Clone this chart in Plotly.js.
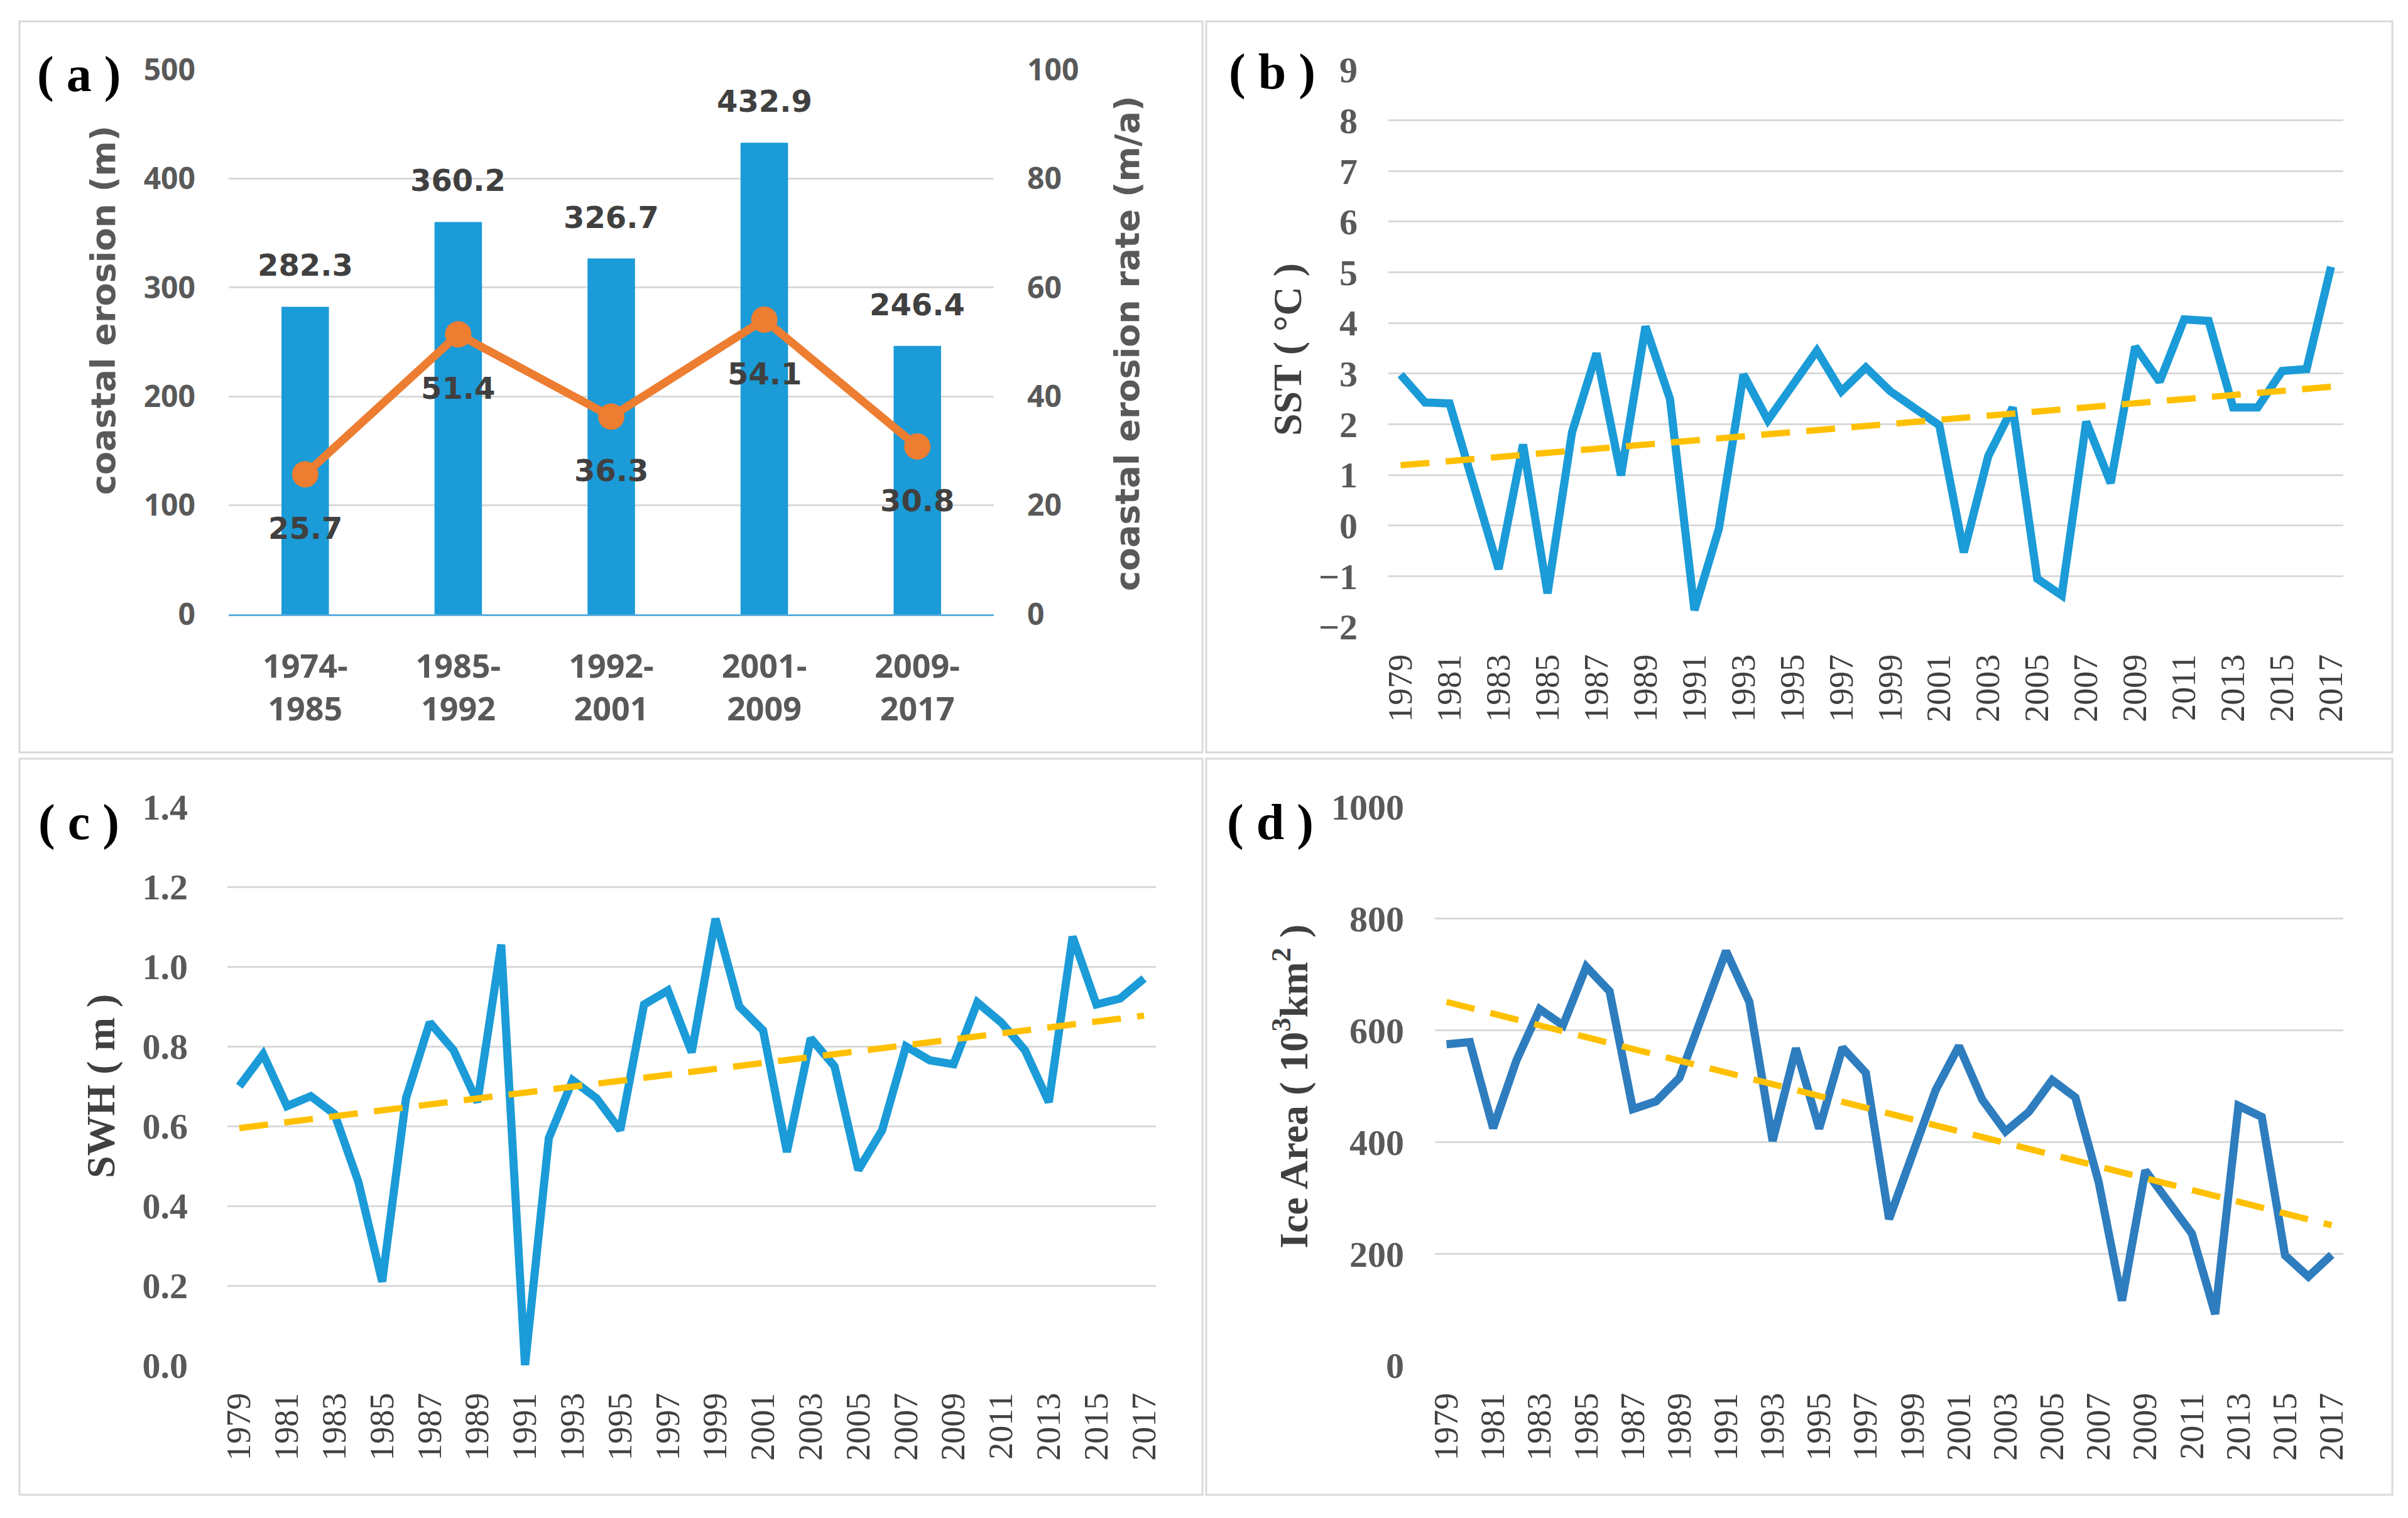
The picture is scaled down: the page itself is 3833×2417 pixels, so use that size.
<!DOCTYPE html>
<html>
<head>
<meta charset="utf-8">
<script src="https://cdn.plot.ly/plotly-3.0.1.min.js"></script>
<style>html,body{margin:0;padding:0;background:#fff;}#chart{width:3833px;height:2417px;}</style>
</head>
<body>
<div id="chart"></div>
<script>
// ---- data ----
const periods = ['1974-<br>1985', '1985-<br>1992', '1992-<br>2001', '2001-<br>2009', '2009-<br>2017'];
const erosion = [282.3, 360.2, 326.7, 432.9, 246.4];
const erosionRate = [25.7, 51.4, 36.3, 54.1, 30.8];

const years = [1979, 1980, 1981, 1982, 1983, 1984, 1985, 1986, 1987, 1988, 1989, 1990, 1991, 1992, 1993, 1994, 1995, 1996, 1997, 1998,
               1999, 2000, 2001, 2002, 2003, 2004, 2005, 2006, 2007, 2008, 2009, 2010, 2011, 2012, 2013, 2014, 2015, 2016, 2017];
const tickYears = [1979, 1981, 1983, 1985, 1987, 1989, 1991, 1993, 1995, 1997, 1999, 2001, 2003, 2005, 2007, 2009, 2011, 2013, 2015, 2017];
const tickYearLabels = ['1979', '1981', '1983', '1985', '1987', '1989', '1991', '1993', '1995', '1997', '1999', '2001', '2003', '2005', '2007', '2009', '2011', '2013', '2015', '2017'];

const sst = [2.98, 2.43, 2.41, 0.80, -0.86, 1.60, -1.34, 1.84, 3.40, 0.99, 3.93, 2.50, -1.67, -0.06, 2.98, 2.08, 2.77, 3.45, 2.65, 3.12,
             2.65, 2.33, 1.98, -0.53, 1.37, 2.33, -1.05, -1.38, 2.05, 0.84, 3.53, 2.84, 4.07, 4.04, 2.33, 2.33, 3.05, 3.09, 5.11];
const swh = [0.70, 0.78, 0.65, 0.675, 0.63, 0.46, 0.21, 0.67, 0.86, 0.79, 0.66, 1.055, 0.00, 0.57, 0.715, 0.67, 0.59, 0.905, 0.94, 0.785,
             1.12, 0.90, 0.84, 0.535, 0.82, 0.75, 0.49, 0.59, 0.80, 0.765, 0.755, 0.91, 0.86, 0.79, 0.66, 1.075, 0.905, 0.92, 0.97];
const iceArea = [575, 579, 425, 546, 638, 609, 714, 670, 459, 473, 515, 633, 742, 651, 402, 568, 424, 569, 524, 262,
                 380, 493, 572, 476, 419, 454, 511, 480, 328, 116, 349, 293, 236, 92, 465, 445, 197, 159, 198];

const trendYears = [1979, 2017];
const sstTrend = [1.19, 2.74];
const swhTrend = [0.595, 0.877];
const iceTrend = [651, 251];

// ---- helpers for layout (pixel -> paper) ----
const W = 3833, H = 2417;
const px = p => p / W;
const py = p => 1 - p / H;

const BLUE = '#1B9BD7';
const BLUE_D = '#2E7DBE';
const ORANGE = '#ED7D31';
const GOLD = '#FFC000';
const GRID = '#D9D9D9';
const serif = 'Liberation Serif, Times New Roman, serif';
const sans = 'Open Sans, Liberation Sans, sans-serif';
const dv = 'DejaVu Sans, sans-serif';
const TREND_DASH = '46px,26px';

const traces = [
  {type: 'bar', x: periods, y: erosion, xaxis: 'x', yaxis: 'y', marker: {color: BLUE}, hoverinfo: 'none'},
  {type: 'scatter', mode: 'lines+markers', x: periods, y: erosionRate, xaxis: 'x', yaxis: 'y5',
   line: {color: ORANGE, width: 13}, marker: {color: ORANGE, size: 42}},

  {type: 'scatter', mode: 'lines', x: years, y: sst, xaxis: 'x2', yaxis: 'y2', line: {color: BLUE, width: 13}},
  {type: 'scatter', mode: 'lines', x: trendYears, y: sstTrend, xaxis: 'x2', yaxis: 'y2', line: {color: GOLD, width: 10, dash: TREND_DASH}},

  {type: 'scatter', mode: 'lines', x: years, y: swh, xaxis: 'x3', yaxis: 'y3', line: {color: BLUE, width: 13}},
  {type: 'scatter', mode: 'lines', x: trendYears, y: swhTrend, xaxis: 'x3', yaxis: 'y3', line: {color: GOLD, width: 10, dash: TREND_DASH}},

  {type: 'scatter', mode: 'lines', x: years, y: iceArea, xaxis: 'x4', yaxis: 'y4', line: {color: BLUE_D, width: 13}},
  {type: 'scatter', mode: 'lines', x: trendYears, y: iceTrend, xaxis: 'x4', yaxis: 'y4', line: {color: GOLD, width: 10, dash: TREND_DASH}}
];

const yTickFontSerif = {family: serif, size: 58, color: '#595959', weight: 'bold'};
const xTickFontSerif = {family: serif, size: 54, color: '#404040'};

function yearAxis(domain, anchor) {
  return {domain: domain, anchor: anchor, range: [1978.5, 2017.5], tickmode: 'array', tickvals: tickYears, ticktext: tickYearLabels,
          tickangle: -90, tickfont: xTickFontSerif, showgrid: false, zeroline: false, showline: false, ticks: '', ticklabelstandoff: 32};
}
function valAxis(domain, anchor, range, dtick, fmt, standoff) {
  return {domain: domain, anchor: anchor, range: range, dtick: dtick, tick0: range[0], tickformat: fmt, tickfont: yTickFontSerif,
          showgrid: true, gridcolor: GRID, gridwidth: 3, zeroline: false, showline: false, ticks: '', ticklabelstandoff: standoff};
}

const layout = {
  width: W, height: H, margin: {l: 0, r: 0, t: 0, b: 0, pad: 0},
  paper_bgcolor: '#ffffff', plot_bgcolor: '#ffffff', showlegend: false, bargap: 0.69,
  xaxis: {domain: [px(364), px(1582)], anchor: 'y', type: 'category', showgrid: false, zeroline: false,
          showline: true, linecolor: '#5AAEE0', linewidth: 3, ticks: '', ticklabelstandoff: 36,
          tickfont: {family: sans, size: 52, color: '#595959', weight: 'bold'}},
  yaxis: {domain: [py(978), py(111)], anchor: 'x', range: [0, 500], dtick: 100, showgrid: true, gridcolor: GRID, gridwidth: 3,
          zeroline: false, ticks: '', ticklabelstandoff: 52, tickfont: {family: sans, size: 48, color: '#595959', weight: 'bold'}},
  yaxis5: {overlaying: 'y', side: 'right', anchor: 'x', range: [0, 100], dtick: 20, showgrid: false, zeroline: false,
           ticks: '', ticklabelstandoff: 52, tickfont: {family: sans, size: 48, color: '#595959', weight: 'bold'}},

  xaxis2: yearAxis([px(2210), px(3730)], 'y2'),
  yaxis2: valAxis([py(998), py(111)], 'x2', [-2, 9], 1, 'd', 48),

  xaxis3: yearAxis([px(362), px(1840)], 'y3'),
  yaxis3: valAxis([py(2174), py(1285)], 'x3', [0, 1.4], 0.2, '.1f', 62),

  xaxis4: yearAxis([px(2284), px(3730)], 'y4'),
  yaxis4: valAxis([py(2174), py(1285)], 'x4', [0, 1000], 200, 'd', 48),

  shapes: [
    {type: 'rect', xref: 'paper', yref: 'paper', x0: px(31), x1: px(1914), y0: py(1198), y1: py(34), line: {color: GRID, width: 3}},
    {type: 'rect', xref: 'paper', yref: 'paper', x0: px(1920), x1: px(3808), y0: py(1198), y1: py(34), line: {color: GRID, width: 3}},
    {type: 'rect', xref: 'paper', yref: 'paper', x0: px(31), x1: px(1914), y0: py(2380), y1: py(1208), line: {color: GRID, width: 3}},
    {type: 'rect', xref: 'paper', yref: 'paper', x0: px(1920), x1: px(3808), y0: py(2380), y1: py(1208), line: {color: GRID, width: 3}}
  ],
  annotations: []
};

// data labels, panel (a)
erosion.forEach((v, i) => layout.annotations.push({
  xref: 'x', yref: 'y', x: periods[i], y: v, text: v.toFixed(1), showarrow: false, yanchor: 'bottom', yshift: 36,
  font: {family: dv, size: 48, color: '#404040', weight: 'bold'}
}));
erosionRate.forEach((v, i) => layout.annotations.push({
  xref: 'x', yref: 'y5', x: periods[i], y: v, text: v.toFixed(1), showarrow: false, yanchor: 'top', yshift: -56,
  font: {family: dv, size: 48, color: '#404040', weight: 'bold'}
}));

// axis titles
const titleSans = {family: dv, size: 54, color: '#595959', weight: 'bold'};
const titleSerif = {family: serif, size: 64, color: '#404040', weight: 'bold'};
[
  {x: 165, y: 494, text: 'coastal erosion (m)', font: titleSans},
  {x: 1794, y: 547, text: 'coastal erosion rate (m/a)', font: titleSans},
  {x: 2049, y: 557, text: 'SST ( °C )', font: titleSerif},
  {x: 160, y: 1730, text: 'SWH ( m )', font: titleSerif},
  {x: 2054, y: 1730, text: 'Ice Area ( 10<sup>3</sup>km<sup>2</sup> )', font: titleSerif}
].forEach(t => layout.annotations.push({
  xref: 'paper', yref: 'paper', x: px(t.x), y: py(t.y), text: t.text, textangle: -90, showarrow: false,
  xanchor: 'center', yanchor: 'middle', font: t.font
}));

// panel labels
[
  {x: 125, y: 118, text: '( a )'},
  {x: 2025, y: 115, text: '( b )'},
  {x: 125, y: 1309, text: '( c )'},
  {x: 2022, y: 1309, text: '( d )'}
].forEach(t => layout.annotations.push({
  xref: 'paper', yref: 'paper', x: px(t.x), y: py(t.y), text: t.text, showarrow: false,
  xanchor: 'center', yanchor: 'middle', font: {family: serif, size: 80, color: '#000000', weight: 'bold'}
}));

Plotly.newPlot('chart', traces, layout, {staticPlot: true});
</script>
</body>
</html>
